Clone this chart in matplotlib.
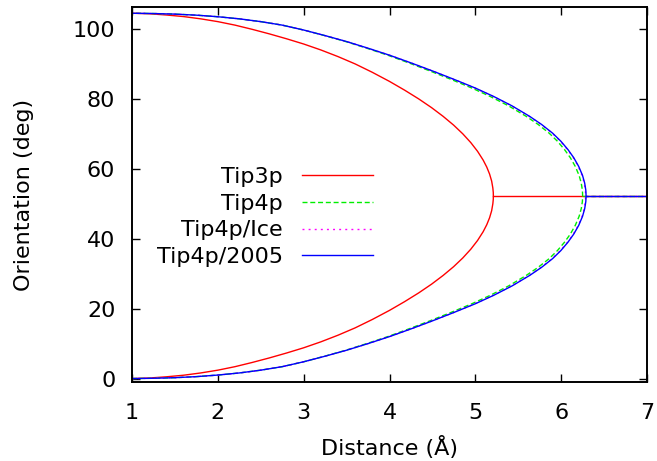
import numpy as np
import matplotlib
matplotlib.use('Agg')
from matplotlib import pyplot as plt

plt.rcParams['font.family'] = ['DejaVu Sans']

# lower branch of each curve (distance in A, orientation in deg)
# the upper branch is the mirror image about hoh/2
hoh = 104.5
xmax = 7.0

tip3p_dist = [1.00, 1.20, 1.40, 1.60, 1.80, 2.00, 2.20, 2.40, 2.60, 2.80, 3.00, 3.20, 3.40, 3.60, 3.80,
              4.00, 4.176, 4.34, 4.49, 4.625, 4.747, 4.854, 4.947, 5.026, 5.091, 5.133, 5.166, 5.19,
              5.204, 5.209, 5.21]
tip3p_ang = [0.0, 0.15, 0.5, 0.95, 1.6, 2.4, 3.4, 4.6, 5.9, 7.3, 8.8, 10.5, 12.4, 14.5, 16.9,
             19.5, 22.0, 24.5, 27.0, 29.5, 32.0, 34.5, 37.0, 39.5, 42.0, 44.0, 46.0, 48.0,
             50.0, 51.25, 52.25]

tip4p_ang = [0.0, 0.08, 0.25, 0.55, 1.0, 1.6, 2.4, 3.4, 4.8, 6.4, 8.1, 10.0, 12.0, 14.2, 16.5, 18.9,
             21.4, 23.8, 26.5, 29.5, 31.8, 34.3, 36.6, 39.0, 41.3, 43.8, 46.4, 48.6, 50.6, 51.5, 52.25]
tip4p_dist = [1.00, 1.25, 1.50, 1.75, 2.00, 2.25, 2.50, 2.75, 3.00, 3.245, 3.49, 3.735, 3.98, 4.225, 4.47, 4.715,
              4.96, 5.173, 5.388, 5.593, 5.731, 5.860, 5.956, 6.039, 6.106, 6.164, 6.209, 6.234, 6.247, 6.249, 6.25]
tip4pice_dist = [1.00, 1.25, 1.50, 1.75, 2.00, 2.25, 2.50, 2.75, 3.00, 3.25, 3.50, 3.75, 4.00, 4.25, 4.50, 4.75,
                 4.995, 5.208, 5.423, 5.628, 5.766, 5.895, 5.991, 6.074, 6.141, 6.199, 6.244, 6.269, 6.282,
                 6.284, 6.285]
tip4p2005_dist = [1.00, 1.25, 1.50, 1.75, 2.00, 2.25, 2.50, 2.75, 3.00, 3.25, 3.50, 3.75, 4.00, 4.25, 4.50, 4.75,
                  5.00, 5.213, 5.428, 5.633, 5.771, 5.900, 5.996, 6.079, 6.146, 6.204, 6.249, 6.274, 6.287,
                  6.289, 6.29]

labels = ['Tip3p', 'Tip4p', 'Tip4p/Ice', 'Tip4p/2005']
colors = ['#ff0000', '#00ee00', '#ff00ff', '#0000ff']
dashes = [None, (3.6, 2.0), (1.4, 3.0), None]

fig = plt.figure(figsize=(6.57, 4.61), dpi=100)
ax = fig.add_axes([132/657, 1-381.7/461, 515/657, 374.4/461])

series = [(tip3p_dist, tip3p_ang), (tip4p_dist, tip4p_ang),
          (tip4pice_dist, tip4p_ang), (tip4p2005_dist, tip4p_ang)]
for (d, a), lab, c, ds in zip(series, labels, colors, dashes):
    d = np.array(d)
    a = np.array(a)
    x = np.concatenate([d, d[::-1][1:]])
    y = np.concatenate([a, hoh - a[::-1][1:]])
    kw = dict(color=c, lw=1.0)
    if ds is not None:
        kw['dashes'] = ds
    ax.plot(x, y, label=lab, **kw)
    ax.plot([d[-1], xmax], [a[-1], a[-1]], **kw)

ax.set_xlim(1, 7)
ax.set_ylim(-0.9, 106.2)
ax.set_xticks([1, 2, 3, 4, 5, 6, 7])
ax.set_yticks([0, 20, 40, 60, 80, 100])
ax.tick_params(direction='in', top=True, right=True, length=6, width=1.0,
               labelsize=16, pad=12)
ax.tick_params(axis='x', pad=15)
for s in ax.spines.values():
    s.set_linewidth(1.4)
ax.set_xlabel('Distance (Å)', fontsize=16, labelpad=10)
ax.set_ylabel('Orientation (deg)', fontsize=16, labelpad=28)

ax.legend(loc='upper right', bbox_to_anchor=((373-132)/515, (381.7-167)/374.4),
          frameon=False, markerfirst=False, fontsize=16, handlelength=3.2,
          handletextpad=0.85, labelspacing=0.3, borderpad=0, borderaxespad=0)

plt.savefig('out.png', dpi=100)
